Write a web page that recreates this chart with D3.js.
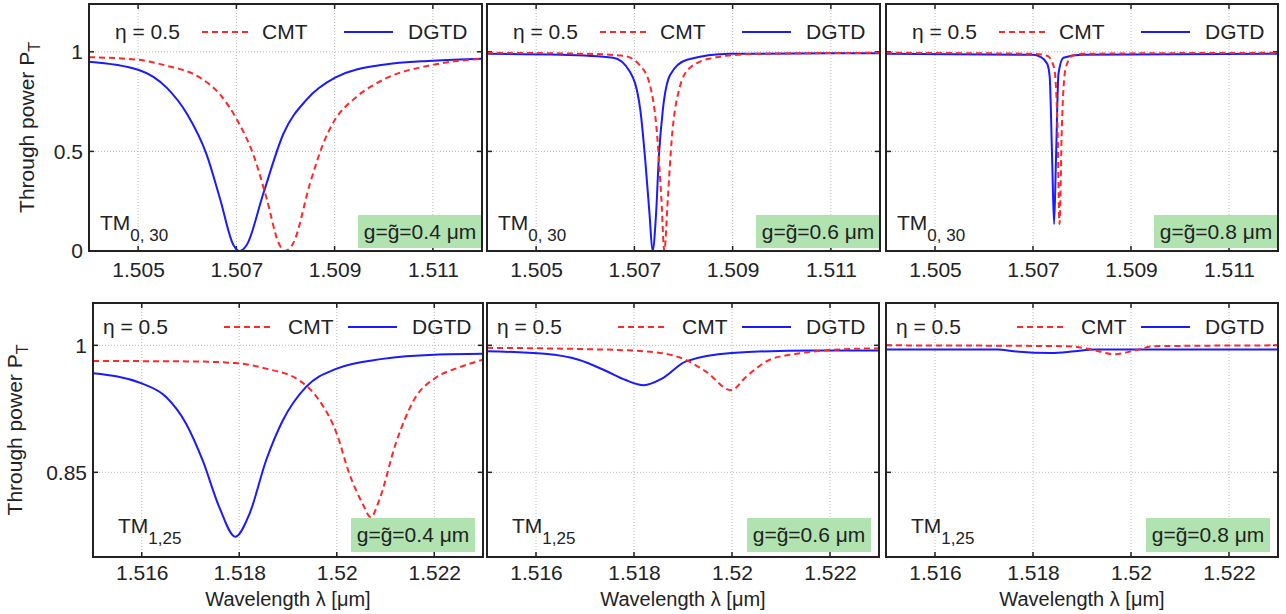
<!DOCTYPE html>
<html>
<head>
<meta charset="utf-8">
<script src="https://d3js.org/d3.v7.min.js"></script>
<style>
  body { margin:0; background:#fff; }
  svg text { font-family:"Liberation Sans", Arial, sans-serif; fill:#222; }
</style>
</head>
<body>
<script>
// ---- data (wavelength in um, through power) ----
// top row: TM0,30 mode
var topCmt04 = [[1.504,0.973],[1.505,0.96],[1.50558,0.93],[1.50626,0.87],[1.50667,0.785],[1.50701,0.66],[1.50735,0.48],[1.50762,0.26],[1.50786,0.04],[1.50799,0],[1.50816,0.04],[1.5085,0.34],[1.50877,0.54],[1.50901,0.66],[1.50938,0.76],[1.50999,0.86],[1.51101,0.935],[1.512,0.965]];
var topDgtd04 = [[1.504,0.95],[1.505,0.91],[1.50558,0.82],[1.50599,0.69],[1.5064,0.48],[1.50667,0.26],[1.50694,0.03],[1.50706,0],[1.50721,0.03],[1.50755,0.29],[1.50796,0.59],[1.50843,0.76],[1.50901,0.87],[1.50999,0.935],[1.511,0.955],[1.512,0.965]];
var topCmt06 = [[1.504,0.995],[1.506,0.99],[1.50678,0.98],[1.50712,0.93],[1.50732,0.83],[1.50746,0.59],[1.50755,0.26],[1.50761,0],[1.50768,0.26],[1.50776,0.56],[1.5079,0.8],[1.50813,0.92],[1.50861,0.97],[1.5095,0.99],[1.512,0.995]];
var topDgtd06 = [[1.504,0.99],[1.5055,0.985],[1.50657,0.97],[1.50691,0.9],[1.50712,0.71],[1.50723,0.43],[1.50731,0.18],[1.50737,0],[1.50744,0.18],[1.5075,0.48],[1.50758,0.71],[1.50773,0.885],[1.50807,0.96],[1.50895,0.99],[1.512,0.993]];
var topCmt08 = [[1.504,0.995],[1.507,0.99],[1.50729,0.98],[1.50743,0.92],[1.5075,0.63],[1.50754,0.135],[1.50759,0.63],[1.50766,0.91],[1.5078,0.98],[1.508,0.99],[1.512,0.995]];
var topDgtd08 = [[1.504,0.99],[1.507,0.985],[1.50715,0.975],[1.50729,0.94],[1.50734,0.876],[1.50739,0.47],[1.50743,0.135],[1.50747,0.47],[1.50752,0.89],[1.50762,0.97],[1.508,0.985],[1.512,0.99]];
// bottom row: TM1,25 mode
var botCmt04 = [[1.515,0.9815],[1.517,0.981],[1.51793,0.979],[1.51855,0.9725],[1.51923,0.9587],[1.51964,0.935],[1.52,0.8957],[1.52026,0.848],[1.52053,0.813],[1.5207,0.797],[1.52087,0.817],[1.52121,0.884],[1.52162,0.939],[1.522,0.9606],[1.52251,0.974],[1.523,0.983]];
var botDgtd04 = [[1.515,0.967],[1.516,0.955],[1.5165,0.939],[1.51691,0.9075],[1.51725,0.864],[1.51759,0.809],[1.51792,0.774],[1.51821,0.801],[1.51855,0.864],[1.51889,0.911],[1.51937,0.951],[1.52,0.9725],[1.52094,0.984],[1.522,0.989],[1.523,0.99]];
var botCmt06 = [[1.515,0.997],[1.51687,0.9957],[1.5182,0.993],[1.51892,0.986],[1.51947,0.969],[1.51998,0.947],[1.52029,0.963],[1.52077,0.983],[1.52132,0.99],[1.522,0.9945],[1.523,0.9965]];
var botDgtd06 = [[1.515,0.993],[1.51618,0.99],[1.51687,0.983],[1.51742,0.97],[1.51783,0.959],[1.5182,0.953],[1.51858,0.961],[1.51906,0.981],[1.51999,0.991],[1.52166,0.994],[1.523,0.994]];
var botCmt08 = [[1.515,1.0],[1.51871,0.999],[1.51912,0.996],[1.51967,0.9895],[1.52008,0.994],[1.52048,0.999],[1.523,1.0]];
var botDgtd08 = [[1.515,0.995],[1.51728,0.995],[1.51761,0.993],[1.51837,0.991],[1.51885,0.993],[1.51926,0.995],[1.523,0.995]];

var topXTicks = [1.505, 1.507, 1.509, 1.511];
var topYTicks = [0, 0.5, 1];
var botXTicks = [1.516, 1.518, 1.52, 1.522];
var botYTicks = [0.85, 1];
var gapLabels = ["0.4", "0.6", "0.8"];
var seriesNames = ["CMT", "DGTD"];

// ---- layout ----
var svg = d3.select("body").append("svg").attr("width", 1286).attr("height", 614);
var fs = 21;

var rows = [
  {t:4, b:251, xd:[1.504,1.512], yd:[0,1.24], xt:topXTicks, yt:topYTicks, sub:"0, 30", pad:11,
   cols:[[89,482],[487,880],[886,1278]], cmt:[topCmt04,topCmt06,topCmt08], dgtd:[topDgtd04,topDgtd06,topDgtd08],
   leg:{eta:26, dy:28, d0:113, d1:162, cmt:173, s0:255, s1:304, dgtd:319}, tm:{dx:11, dy:-21},
   box:{dr:0, h:33, dy:-3}, ylab:34},
  {t:303, b:557, xd:[1.515,1.523], yd:[0.75,1.05], xt:botXTicks, yt:botYTicks, sub:"1,25", pad:8,
   cols:[[93,483],[487,879],[886,1278]], cmt:[botCmt04,botCmt06,botCmt08], dgtd:[botDgtd04,botDgtd06,botDgtd08],
   leg:{eta:10, dy:24, d0:131, d1:181, cmt:195, s0:255, s1:304, dgtd:319}, tm:{dx:25, dy:-24},
   box:{dr:8, h:34, dy:-5}, ylab:22}
];

var red = "#ff2828", blue = "#1a1aff";

rows.forEach(function(row, ri) {
  row.cols.forEach(function(c, ci) {
    var l = c[0], r = c[1];
    var x = d3.scaleLinear().domain(row.xd).range([l, r]);
    var y = d3.scaleLinear().domain(row.yd).range([row.b, row.t]);
    var g = svg.append("g");
    var clipId = "clip" + ri + ci;
    svg.append("clipPath").attr("id", clipId).append("rect")
      .attr("x", l).attr("y", row.t).attr("width", r - l).attr("height", row.b - row.t);

    // grid
    g.selectAll(".gx").data(row.xt).enter().append("line")
      .attr("x1", function(d){return x(d);}).attr("x2", function(d){return x(d);})
      .attr("y1", row.t).attr("y2", row.b)
      .attr("stroke", "#b8b8b8").attr("stroke-width", 1).attr("stroke-dasharray", "1,2");
    g.selectAll(".gy").data(row.yt).enter().append("line")
      .attr("x1", l).attr("x2", r)
      .attr("y1", function(d){return y(d);}).attr("y2", function(d){return y(d);})
      .attr("stroke", "#b8b8b8").attr("stroke-width", 1).attr("stroke-dasharray", "1,2");

    // axes (ticks inside, labels outside)
    var ax = d3.axisBottom(x).tickValues(row.xt).tickSize(0).tickPadding(row.pad).tickFormat(function(d){return String(d);});
    var axG = g.append("g").attr("transform", "translate(0," + row.b + ")").call(ax);
    axG.select(".domain").remove();
    axG.selectAll("text").attr("font-size", fs).attr("fill", "#222").attr("font-family", "Liberation Sans, Arial");
    if (ci === 0) {
      var ay = d3.axisLeft(y).tickValues(row.yt).tickSize(0).tickPadding(6).tickFormat(function(d){return String(d);});
      var ayG = g.append("g").attr("transform", "translate(" + l + ",0)").call(ay);
      ayG.select(".domain").remove();
      ayG.selectAll("text").attr("font-size", fs).attr("fill", "#222").attr("font-family", "Liberation Sans, Arial");
    }
    // inner tick marks on all four sides
    row.xt.forEach(function(v) {
      g.append("line").attr("x1", x(v)).attr("x2", x(v)).attr("y1", row.b).attr("y2", row.b - 5).attr("stroke", "#222").attr("stroke-width", 1.5);
      g.append("line").attr("x1", x(v)).attr("x2", x(v)).attr("y1", row.t).attr("y2", row.t + 5).attr("stroke", "#222").attr("stroke-width", 1.5);
    });
    row.yt.forEach(function(v) {
      g.append("line").attr("x1", l).attr("x2", l + 5).attr("y1", y(v)).attr("y2", y(v)).attr("stroke", "#222").attr("stroke-width", 1.5);
      g.append("line").attr("x1", r).attr("x2", r - 5).attr("y1", y(v)).attr("y2", y(v)).attr("stroke", "#222").attr("stroke-width", 1.5);
    });

    // curves
    var line = d3.line().x(function(d){return x(d[0]);}).y(function(d){return y(d[1]);}).curve(d3.curveMonotoneX);
    var cg = g.append("g").attr("clip-path", "url(#" + clipId + ")");
    cg.append("path").datum(row.dgtd[ci]).attr("d", line)
      .attr("fill", "none").attr("stroke", blue).attr("stroke-width", 2);
    cg.append("path").datum(row.cmt[ci]).attr("d", line)
      .attr("fill", "none").attr("stroke", red).attr("stroke-width", 2).attr("stroke-dasharray", "6,4");

    // green gap box
    var bw = 124;
    var bx = r - row.box.dr - bw, by = row.b + row.box.dy - row.box.h;
    g.append("rect").attr("x", bx).attr("y", by).attr("width", bw).attr("height", row.box.h).attr("fill", "#b1e3b1");
    g.append("text").attr("x", bx + bw / 2).attr("y", by + row.box.h / 2 + 7).attr("text-anchor", "middle")
      .attr("font-size", fs).text("g=g\u0303=" + gapLabels[ci] + " \u03bcm");

    // mode label
    var tm = g.append("text").attr("x", l + row.tm.dx).attr("y", row.b + row.tm.dy).attr("font-size", fs);
    tm.append("tspan").text("TM");
    tm.append("tspan").attr("dy", 11).attr("font-size", 17).text(row.sub);

    // legend
    var ly = row.t + row.leg.dy;
    g.append("text").attr("x", l + row.leg.eta).attr("y", ly + 7).attr("font-size", fs).text("\u03b7 = 0.5");
    g.append("line").attr("x1", l + row.leg.d0).attr("x2", l + row.leg.d1).attr("y1", ly).attr("y2", ly)
      .attr("stroke", red).attr("stroke-width", 2).attr("stroke-dasharray", "6,4");
    g.append("text").attr("x", l + row.leg.cmt).attr("y", ly + 7).attr("font-size", fs).text(seriesNames[0]);
    g.append("line").attr("x1", l + row.leg.s0).attr("x2", l + row.leg.s1).attr("y1", ly).attr("y2", ly)
      .attr("stroke", blue).attr("stroke-width", 2);
    g.append("text").attr("x", l + row.leg.dgtd).attr("y", ly + 7).attr("font-size", fs).text(seriesNames[1]);

    // frame
    g.append("rect").attr("x", l).attr("y", row.t).attr("width", r - l).attr("height", row.b - row.t)
      .attr("fill", "none").attr("stroke", "#222").attr("stroke-width", 2);

    // x label on bottom row
    if (ri === 1) {
      g.append("text").attr("x", (l + r) / 2).attr("y", 606).attr("text-anchor", "middle")
        .attr("font-size", 20).text("Wavelength \u03bb [\u03bcm]");
    }
  });

  // y label
  var mid = (row.t + row.b) / 2;
  var yl = svg.append("text").attr("transform", "translate(" + row.ylab + "," + mid + ") rotate(-90)")
    .attr("text-anchor", "middle").attr("font-size", fs);
  yl.append("tspan").text("Through power P");
  yl.append("tspan").attr("dy", 6).attr("font-size", 16).text("T");
});
</script>
</body>
</html>
